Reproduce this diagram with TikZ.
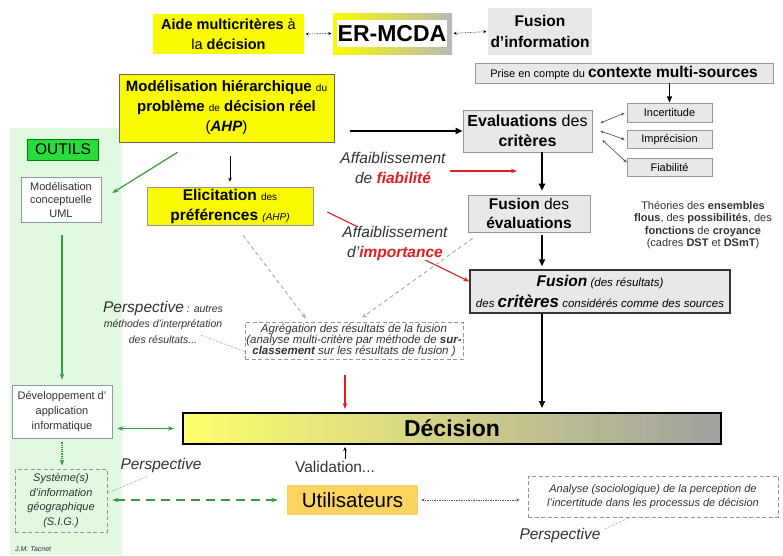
\documentclass[tikz,border=0pt]{standalone}
\usepackage{fontspec}
\setmainfont{Liberation Sans}
\usetikzlibrary{arrows.meta}
\newcommand\fsz[2]{\fontsize{#1}{#2}\selectfont}
\definecolor{yel}{RGB}{250,250,0}
\definecolor{boxg}{RGB}{232,232,232}
\definecolor{bord}{RGB}{150,150,150}
\definecolor{panel}{RGB}{225,248,225}
\definecolor{outg}{RGB}{40,220,60}
\definecolor{garr}{RGB}{50,160,60}
\definecolor{redc}{RGB}{225,30,30}
\definecolor{utilc}{RGB}{250,212,95}
\definecolor{decl}{RGB}{255,255,110}
\definecolor{decr}{RGB}{160,160,160}
\definecolor{txtg}{RGB}{50,50,50}
\tikzset{
  every node/.style={align=center, inner sep=0pt},
  ybox/.style={fill=yel},
  gbox/.style={fill=boxg, draw=bord, line width=0.6pt},
  wbox/.style={fill=white, draw=bord, line width=0.6pt},
  dbox/.style={draw=bord, line width=0.7pt, dash pattern=on 4pt off 2.5pt},
  blk/.style={line width=1.8pt, -{Triangle[length=7pt,width=6pt]}},
  thinblk/.style={line width=0.6pt, -{Stealth[length=4pt,width=3.5pt]}},
  tinyarr/.style={line width=0.6pt, densely dotted, {Stealth[length=3pt,width=3pt]}-{Stealth[length=3pt,width=3pt]}, shorten <=1.5pt, shorten >=1.5pt},
  gsmall/.style={draw=gray!70!black, line width=0.7pt, {Stealth[length=3.5pt,width=3pt]}-{Stealth[length=3.5pt,width=3pt]}},
  redarr/.style={draw=redc, line width=1.1pt, -{Stealth[length=6pt,width=4.5pt]}},
  grn/.style={draw=garr, line width=1.2pt, -{Stealth[length=6pt,width=4.5pt]}},
  grn2/.style={draw=garr, line width=1.2pt, {Stealth[length=6pt,width=4.5pt]}-{Stealth[length=6pt,width=4.5pt]}},
  gdarr/.style={draw=gray!65, line width=1pt, dash pattern=on 4pt off 3pt, -{Stealth[length=5pt,width=4pt]}},
  gline/.style={draw=gray!60, line width=0.7pt, dash pattern=on 2.5pt off 1.5pt},
  persp/.style={font=\itshape\fsz{15.5}{18}, text=txtg}
}
\begin{document}
\begin{tikzpicture}[x=1pt,y=-1pt]
\useasboundingbox (0,0) rectangle (783,555);
\fill[panel] (10,128) rectangle (122,555);

% top row
\node[ybox, minimum width=151pt, minimum height=40pt, font=\bfseries\fsz{14.5}{20}] (aide) at (228.5,34) {Aide multicritères {\mdseries à}\\{\mdseries la} décision};
\node[minimum width=119pt, minimum height=41pt, left color=yel, right color=gray!55] (ermcda) at (392.5,33.5) {};
\node[fill=white, minimum width=110pt, minimum height=27pt, font=\bfseries\fsz{23}{26}] (ermcdatxt) at (392,33.5) {ER-MCDA};
\node[fill=boxg, minimum width=104pt, minimum height=47pt, font=\bfseries\fsz{15.5}{21}] (fusinfo) at (540,31.5) {Fusion\\d'information};
\draw[tinyarr] (aide.east) -- (ermcda.west);
\draw[tinyarr] (ermcda.east) -- (fusinfo.west);

% right part
\node[gbox, minimum width=298pt, minimum height=20pt] (prise) at (624,73) {{\fsz{11}{13}Prise en compte du }{\bfseries\fsz{15.5}{13}contexte multi-sources}};
\node[gbox, minimum width=85pt, minimum height=18.5pt, font=\fsz{11}{13}] (incert) at (669.5,113) {Incertitude};
\node[gbox, minimum width=85pt, minimum height=18.5pt, font=\fsz{11}{13}] (imprec) at (669.5,139.5) {Imprécision};
\node[gbox, minimum width=85pt, minimum height=18.5pt, font=\fsz{11}{13}] (fiab) at (669.5,167.5) {Fiabilité};
\node[gbox, minimum width=129pt, minimum height=42pt, font=\fsz{16}{20}] (evalcrit) at (527.5,131) {\textbf{Evaluations} des\\\textbf{critères}};
\node[gbox, minimum width=122pt, minimum height=37pt, font=\fsz{15.5}{19}] (fusev) at (529,213.5) {\textbf{Fusion} des\\\textbf{évaluations}};
\node[fill=boxg, draw=black!80, line width=1.5pt, minimum width=260pt, minimum height=43pt, font=\itshape\fsz{11.5}{21}] (fuscrit) at (600,291.5) {{\bfseries\fsz{15.5}{21}Fusion} (des résultats)\\des {\bfseries\fsz{17}{21}critères} considérés comme des sources};
\node[font=\fsz{11}{12.6}, text=txtg] (theo) at (703,225) {Théories des \textbf{ensembles}\\\textbf{flous}, des \textbf{possibilités}, des\\\textbf{fonctions} de \textbf{croyance}\\(cadres \textbf{DST} et \textbf{DSmT})};

\draw[line width=1.2pt, -{Triangle[length=6pt,width=5pt]}, shorten >=1pt] (incert.north |- prise.south) -- (incert.north);
\draw[gsmall] ([xshift=8pt,yshift=8pt]evalcrit.east) -- ([xshift=-2pt]incert.west);
\draw[gsmall] ([xshift=8pt]evalcrit.east) -- ([xshift=-2pt]imprec.west);
\draw[gsmall] ([xshift=10pt,yshift=-9pt]evalcrit.east) -- ([yshift=5pt]fiab.west);

% left / middle
\node[ybox, draw=black!60, line width=0.6pt, minimum width=215pt, minimum height=68pt, font=\bfseries\fsz{15}{20}] (model) at (226.5,108) {Modélisation hiérarchique {\mdseries\fsz{10}{20}du}\\problème {\mdseries\fsz{10}{20}de} décision réel\\{\mdseries(}{\itshape AHP}{\mdseries)}};
\node[ybox, draw=bord, line width=0.6pt, minimum width=166pt, minimum height=38pt, font=\bfseries\fsz{15.5}{20}] (elic) at (230,206) {Elicitation {\mdseries\fsz{10}{20}des}\\préférences {\mdseries\itshape\fsz{10}{20}(AHP)}};

\node[fill=outg, draw=green!50!black, line width=0.6pt, minimum width=71pt, minimum height=21pt, font=\fsz{15.5}{18}] (outils) at (63,149.5) {OUTILS};
\node[wbox, minimum width=80pt, minimum height=45pt, font=\fsz{11}{13.5}, text=txtg] (uml) at (61,199.5) {Modélisation\\conceptuelle\\UML};
\node[wbox, minimum width=100pt, minimum height=53pt, font=\fsz{11}{15}, text=txtg] (dev) at (62,411.5) {Développement d'\\application\\informatique};
\node[dbox, minimum width=92pt, minimum height=63pt, font=\itshape\fsz{11}{14.5}, text=txtg] (sig) at (61,500.5) {Système(s)\\d'information\\géographique\\(S.I.G.)};
\node[anchor=west, font=\itshape\fsz{7}{8}, text=txtg] (tac) at (15,549) {J.M. Tacnet};

\node[draw=black, line width=2pt, left color=decl, right color=decr, minimum width=538pt, minimum height=31pt, font=\bfseries\fsz{23}{26}] (decision) at (452,428.5) {Décision};
\node[font=\fsz{15.5}{18}, text=txtg] (valid) at (335,467) {Validation...};
\node[fill=utilc, minimum width=131pt, minimum height=30pt, font=\fsz{20.5}{24}] (util) at (352.5,500) {Utilisateurs};
\node[dbox, minimum width=250pt, minimum height=41pt, font=\itshape\fsz{11}{14}, text=txtg] (analyse) at (653,496.5) {Analyse (sociologique) de la perception de\\l'incertitude dans les processus de décision};
\node[persp] (persp3) at (560,535) {Perspective};
\node[persp] (persp1) at (161,465) {Perspective};
\node[font=\itshape\fsz{10.5}{15.5}, text=txtg] (persp2) at (163,322) {{\fsz{15.5}{15.5}Perspective} : autres\\méthodes d'interprétation\\des résultats...};
\node[dbox, minimum width=218pt, minimum height=37pt, font=\itshape\fsz{11.5}{11.2}, text=txtg] (agreg) at (354,340.5) {Agrégation des résultats de la fusion\\(analyse multi-critère par méthode de \textbf{sur-}\\\textbf{classement} sur les résultats de fusion )};
\node[font=\itshape\fsz{15.5}{20}, text=txtg] (affa1) at (393,168) {Affaiblissement\\de \textcolor{redc}{\bfseries fiabilité}};

\coordinate (col) at (542,0);
\coordinate (redx) at (345,0);

% main black arrows
\draw[blk, shorten <=16pt] (model.east |- evalcrit.west) -- (evalcrit.west);
\draw[blk, shorten >=4pt] (evalcrit.south -| col) -- (fusev.north -| col);
\draw[blk, shorten <=3pt, shorten >=3pt] (fusev.south -| col) -- (fuscrit.north -| col);
\draw[blk, shorten >=4pt] (fuscrit.south -| col) -- (decision.north -| col);
\draw[thinblk, shorten <=14pt, shorten >=5pt] (model.south -| elic.north) -- (elic.north);

% red arrows
\draw[redarr, shorten <=4pt, shorten >=25pt] ([yshift=-3pt]affa1.east) -- ([yshift=-3pt]affa1.east -| col);
\draw[redarr] ([xshift=14pt,yshift=-6pt]elic.east) -- ([yshift=10pt]fuscrit.west);
\node[fill=white, font=\itshape\fsz{15.5}{20}, text=txtg] (affa2) at (395,243) {Affaiblissement\\d'\textcolor{redc}{\bfseries importance}};
\draw[redarr, shorten <=16pt, shorten >=3pt] (agreg.south -| redx) -- (decision.north -| redx);

% grey dashed arrows to aggregation
\draw[gdarr] ([xshift=13pt,yshift=-10pt]elic.south) -- ([xshift=-48pt,yshift=3pt]agreg.north);
\draw[gdarr] ([xshift=5pt,yshift=-6pt]fusev.south west) -- ([xshift=8pt,yshift=4pt]agreg.north);
\draw[gline] ([xshift=-22pt,yshift=8pt]persp2.south east) -- ([yshift=-11pt]agreg.west);

% green tools
\draw[grn] ([xshift=-49pt,yshift=-10pt]model.south) -- ([xshift=11pt,yshift=6.5pt]uml.east);
\draw[grn, shorten <=13pt, shorten >=5pt] (uml.south -| dev.north) -- (dev.north);
\draw[grn2, shorten <=5pt, shorten >=8pt] (dev.east |- decision.west) -- (decision.west);
\draw[grn, densely dotted, shorten <=4pt, shorten >=3pt] (dev.south) -- (dev.south |- sig.north);
\draw[grn2, dash pattern=on 9pt off 6pt, shorten <=5pt, shorten >=9pt] (sig.east |- util.west) -- (util.west);
\draw[gline] ([xshift=-14pt,yshift=-4pt]persp1.south) -- ([yshift=7.5pt]sig.east);

% bottom
\draw[thinblk, shorten <=2pt, shorten >=2pt] (valid.north -| redx) -- (decision.south -| redx);
\draw[gsmall, densely dotted, shorten <=3pt, shorten >=8pt] (util.east) -- (util.east -| analyse.west);
\draw[gline] ([xshift=4pt,yshift=6pt]persp3.east) -- ([xshift=-23pt]analyse.south);
\end{tikzpicture}
\end{document}
